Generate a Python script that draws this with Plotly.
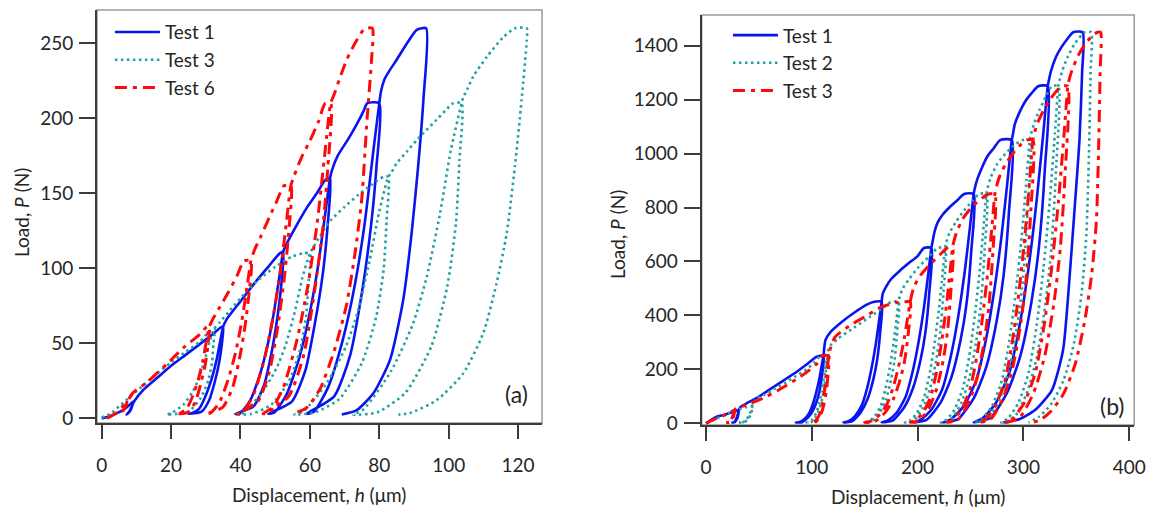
import plotly.graph_objects as go

# ---------------- Panel (a) data: displacement h (um), load P (N) ----------------
a_test1_h = [0, 2, 4, 6.5, 8.5, 9, 8.7, 8.1, 7.2, 7.8, 8.6, 9.4,
             12, 16, 20, 24, 28, 32, 34.5, 35,
             34.6, 33.8, 32.6, 31, 28.8, 25,
             26, 28, 30, 31.6, 33, 34.2, 35,
             36, 40, 44, 48, 51.3, 52.3,
             51.75, 50.6, 49, 46.8, 43.7, 38.5,
             39.9, 42.6, 45.4, 47.6, 49.5, 51.2, 52.3,
             53, 56, 59, 62, 64.5, 65.8,
             65.1, 63.7, 61.5, 58.7, 54.8, 48,
             49.8, 53.3, 56.9, 59.7, 62.2, 64.4, 65.8,
             66.3, 68, 71, 73.5, 75.5, 76.5, 80,
             79.2, 77.5, 75, 71.6, 67, 59,
             61.1, 65.3, 69.5, 72.9, 75.8, 78.3, 80,
             80.5, 81.5, 83, 85, 88, 90.8, 93.5,
             92.7, 91.2, 89.3, 86.9, 83.1, 78.3, 73.5, 69.2]
a_test1_p = [0, 1, 3, 6, 10, 11, 7.5, 4.5, 2.5, 4, 7.5, 11.5,
             19, 27, 35, 42, 49, 56, 61, 61,
             48.8, 36.6, 24.4, 12.2, 4.5, 3,
             3.5, 6.1, 15.3, 25.6, 37.8, 51.9, 61,
             66, 78, 90, 101, 110, 111,
             88.8, 66.6, 44.4, 22.2, 7.8, 3,
             3.5, 11.1, 27.8, 46.6, 68.8, 94.4, 111,
             115, 128, 140, 150, 159, 160,
             128, 96, 64, 32, 11.2, 3,
             4, 16, 40, 67.2, 99.2, 136, 160,
             165, 175, 186, 196, 205, 210, 210,
             168, 126, 84, 42, 14.7, 3,
             4.2, 21, 52.5, 88.2, 130, 178.5, 210,
             218, 226, 232, 239, 250, 259, 260,
             212, 168, 123, 79, 39, 16.7, 5.5, 2.5]

a_test3_h = [0, 2.5, 5, 8.2, 12, 16, 19.7, 24, 28.3, 31, 32.5,
             32.2, 31.8, 30.7, 28.6, 25.3, 21.7, 18.7,
             20.1, 23.5, 26.3, 28.1, 29.7, 31.1, 32.5,
             34, 37, 40, 42.7, 45, 50, 55, 58.1, 60,
             59.6, 58.9, 57.2, 54, 48.8, 43.2, 38.4,
             40.6, 46, 50.3, 53.1, 55.7, 57.8, 60,
             61, 63, 66, 70, 74, 78, 81.2, 82.6,
             82.1, 81.3, 79.1, 75, 68.5, 61.5, 55.5,
             58.2, 65, 70.4, 73.9, 77.2, 79.9, 82.6,
             83.5, 85, 88, 90.8, 93.5, 96.5, 99, 101.3, 103.7,
             103.1, 102.1, 99.6, 95, 87.5, 79.4, 72.5,
             75.6, 83.4, 89.7, 93.7, 97.5, 100.6, 103.7,
             104.2, 105.5, 107.1, 111, 115.7, 119.1, 122.5,
             122.5, 121, 119.1, 116.7, 113.8, 110, 104.2, 96.5, 88.8, 85.5]
a_test3_p = [0.5, 3, 8, 14.4, 22, 30, 36.7, 44, 51, 58, 60,
             49.2, 37.2, 25.2, 13.8, 5, 3, 2.5,
             3.5, 9, 18, 27, 39, 51, 60,
             64, 72, 80, 87, 92, 101, 108, 110, 110,
             90, 68, 46, 25, 9, 3, 2.5,
             3.5, 16.5, 33, 49.5, 71.5, 93.5, 110,
             114, 122, 132, 141, 149, 156, 161, 161,
             132, 100, 67.6, 37, 12.9, 4, 2.5,
             4.8, 24, 48, 72, 105, 137, 161,
             164, 170, 178, 185.5, 192, 199, 205, 210, 210,
             172, 130, 88, 48, 17, 4, 2.5,
             6.3, 31.5, 63, 94.5, 136.5, 178.5, 210,
             214, 220, 228, 241, 254, 260, 260,
             252, 212, 168, 123, 90, 57, 30, 12, 3.5, 2.5]

a_test6_h = [1.5, 3, 4.5, 6, 7.3, 7, 6.3, 5.6, 6.4, 7.6, 9,
             13, 18.7, 23.5, 28.3, 30.3, 31,
             30.6, 29.9, 28.7, 27.2, 25.2, 21.6,
             22.5, 24.4, 26.3, 27.8, 29.1, 30.2, 31,
             32, 34, 36.5, 39, 41, 43,
             42.5, 41.4, 39.9, 37.8, 34.9, 30,
             31.3, 33.9, 36.5, 38.6, 40.4, 42, 43,
             44, 46, 48.5, 50.5, 52.5, 54.5,
             53.9, 52.6, 50.8, 48.3, 44.9, 39,
             40.6, 43.7, 46.8, 49.2, 51.4, 53.3, 54.5,
             55.5, 57.6, 60, 62.5, 64.4, 66,
             65.2, 63.7, 61.3, 58.2, 53.9, 46.5,
             48.5, 52.4, 56.3, 59.4, 62.1, 64.4, 66,
             67, 68.5, 70.6, 73, 75.4, 76, 78,
             77.8, 76.5, 74.9, 73, 70.5, 67, 63, 59, 55]
a_test6_p = [0, 2, 4, 8, 12, 8.5, 5.5, 4.5, 7, 12, 17,
             24, 36, 47, 56, 61, 61,
             48.8, 36.6, 24.4, 12.2, 4.3, 3,
             3.5, 6.1, 15.3, 25.6, 37.8, 51.9, 61,
             66, 74, 84, 95, 105, 105,
             84, 63, 42, 21, 7.4, 3,
             3.5, 10.5, 26.3, 44.1, 65.1, 89.3, 105,
             112, 122, 135, 145, 155, 155,
             124, 93, 62, 31, 10.9, 3,
             4, 15.5, 38.8, 65.1, 96.1, 131.8, 155,
             162, 174, 185, 198, 210, 210,
             168, 126, 84, 42, 14.7, 3,
             4.2, 21, 52.5, 88.2, 130, 178.5, 210,
             216, 226, 239, 250, 259, 260, 260,
             240, 200, 145, 110, 75, 45, 20, 7, 3]

# ---------------- Panel (b) data ----------------
b_test1_h = [0, 4, 10, 17, 24, 29, 31,
             30.7, 30.2, 29.5, 28.4, 27.2, 25.5, 24,
             24.8, 26.1, 27.4, 28.3, 29.2, 30, 30.6, 31,
             33, 38.4, 45, 52, 60, 68, 76, 85.7, 95, 104.6, 111,
             110, 107.9, 105.3, 101.4, 96.7, 90.7, 85,
             88.1, 92.8, 97.5, 101.1, 104.2, 107.1, 109.4, 111,
             111.5, 113, 118, 128, 140, 152, 158, 166,
             164.6, 161.7, 158.1, 152.7, 146.2, 137.9, 130,
             134.3, 140.8, 147.3, 152.3, 156.6, 160.6, 163.8, 166,
             167, 170, 175, 183, 192, 200, 206, 213,
             211.1, 207.4, 202.7, 195.6, 187.2, 176.3, 166,
             171.6, 180.1, 188.6, 195.1, 200.8, 206, 210.2, 213,
             214, 216, 219, 224, 230, 237, 244, 253,
             250.7, 246.2, 240.5, 231.9, 221.7, 208.5, 196,
             202.8, 213.1, 223.4, 231.3, 238.2, 244.5, 249.6, 253,
             254, 256, 260, 266, 272, 278, 289,
             286.4, 281.2, 274.7, 265, 253.3, 238.3, 224,
             231.8, 243.5, 255.2, 264.3, 272.1, 279.3, 285.1, 289,
             290, 292, 296, 302, 308, 314, 323,
             320.2, 314.6, 307.6, 297.1, 284.5, 268.4, 253,
             261.4, 274, 286.6, 296.4, 304.8, 312.5, 318.8, 323,
             324, 326, 331, 336, 341, 347, 356,
             355.5, 353, 349, 342, 337.5, 327, 311, 296, 281]
b_test1_p = [0, 10, 24, 31, 40, 47, 50,
             37.5, 26, 18, 10, 4.5, 3, 3,
             3, 3.5, 7.5, 14.5, 23, 33, 43, 50,
             62, 74, 88, 104, 125, 145, 166, 191, 218, 247, 250,
             187.5, 130, 90, 50, 22.5, 4, 3,
             4, 15, 37.5, 72.5, 115, 165, 215, 250,
             270, 310, 340, 375, 410, 440, 450, 450,
             337.5, 234, 162, 90, 40.5, 6.8, 3,
             6.8, 27, 67.5, 130.5, 207, 297, 387, 450,
             480, 505, 535, 565, 595, 620, 650, 650,
             487.5, 338, 234, 130, 58.5, 9.8, 3,
             9.8, 39, 97.5, 188.5, 299, 429, 559, 650,
             670, 710, 745, 775, 800, 825, 850, 850,
             637.5, 442, 306, 170, 76.5, 12.8, 3,
             12.8, 51, 127.5, 246.5, 391, 561, 731, 850,
             870, 900, 940, 990, 1020, 1050, 1050,
             787.5, 546, 378, 210, 94.5, 15.8, 3,
             15.8, 63, 157.5, 304.5, 483, 693, 903, 1050,
             1070, 1110, 1150, 1195, 1225, 1250, 1250,
             937.5, 650, 450, 250, 112.5, 18.8, 3,
             18.8, 75, 187.5, 362.5, 575, 825, 1075, 1250,
             1270, 1305, 1360, 1395, 1422, 1450, 1450,
             1300, 1050, 828, 457, 272, 123, 49, 15, 3]

b_test2_h = [0, 6, 14, 22, 30, 38, 44,
             43.5, 42.4, 41.1, 39.2, 36.9, 33.9, 31,
             32.6, 34.9, 37.2, 39.1, 40.6, 42.1, 43.2, 44,
             47, 55, 65, 75, 85, 95, 103, 108, 114,
             113.2, 111.7, 109.8, 107, 103.6, 99.2, 95,
             97.3, 100.7, 104.1, 106.8, 109.1, 111.2, 112.9, 114,
             115, 118, 125, 140, 155, 168, 175, 182,
             180.7, 178.2, 175, 170.2, 164.4, 157, 150,
             153.8, 159.6, 165.4, 169.8, 173.7, 177.2, 180.1, 182,
             183, 186, 192, 200, 210, 219, 226,
             224.5, 221.4, 217.6, 211.9, 205.1, 196.4, 188,
             192.6, 199.4, 206.2, 211.6, 216.1, 220.3, 223.7, 226,
             227, 230, 236, 244, 252, 258, 265,
             263.3, 259.8, 255.5, 249.1, 241.4, 231.5, 222,
             227.2, 234.9, 242.6, 248.7, 253.8, 258.6, 262.4, 265,
             266, 269, 275, 283, 291, 299, 306,
             304, 299.9, 294.8, 287.1, 278, 266.2, 255,
             261.1, 270.3, 279.5, 286.6, 292.7, 298.4, 302.9, 306,
             307, 310, 315, 321, 327, 333,
             330.8, 326.5, 321.1, 313, 303.3, 290.9, 279,
             285.5, 295.2, 304.9, 312.5, 319, 324.9, 329.8, 333,
             334, 337, 342, 349, 358, 364,
             363.5, 362, 359.5, 355, 348, 338, 326, 315, 305]
b_test2_p = [0, 10, 25, 38, 50, 60, 65,
             48.8, 33.8, 23.4, 13, 5.9, 3, 3,
             3, 3.9, 9.8, 18.9, 29.9, 42.9, 55.9, 65,
             90, 105, 128, 150, 175, 200, 228, 250, 250,
             187.5, 130, 90, 50, 22.5, 4, 3,
             4, 15, 37.5, 72.5, 115, 165, 215, 250,
             265, 290, 315, 355, 395, 430, 450, 450,
             337.5, 234, 162, 90, 40.5, 6.8, 3,
             6.8, 27, 67.5, 130.5, 207, 297, 387, 450,
             470, 500, 535, 575, 615, 650, 650,
             487.5, 338, 234, 130, 58.5, 9.8, 3,
             9.8, 39, 97.5, 188.5, 299, 429, 559, 650,
             670, 705, 745, 790, 825, 850, 850,
             637.5, 442, 306, 170, 76.5, 12.8, 3,
             12.8, 51, 127.5, 246.5, 391, 561, 731, 850,
             870, 910, 960, 1000, 1030, 1050, 1050,
             787.5, 546, 378, 210, 94.5, 15.8, 3,
             15.8, 63, 157.5, 304.5, 483, 693, 903, 1050,
             1070, 1110, 1160, 1210, 1250, 1250,
             937.5, 650, 450, 250, 112.5, 18.8, 3,
             18.8, 75, 187.5, 362.5, 575, 825, 1075, 1250,
             1270, 1310, 1360, 1410, 1450, 1450,
             1300, 1000, 700, 480, 300, 160, 70, 25, 3]

b_test3_h = [0, 5, 10, 16, 22, 27,
             26.7, 26, 25.2, 24, 22.6, 20.8, 19,
             20, 21.4, 22.8, 24, 24.9, 25.8, 26.5, 27,
             29, 38, 48, 57, 68, 79, 89, 98, 105, 110, 116,
             115.4, 114.1, 112.5, 110.1, 107.2, 103.5, 100,
             101.9, 104.8, 107.7, 109.9, 111.8, 113.6, 115, 116,
             117, 122, 135, 150, 165, 180, 187, 193,
             191.3, 187.8, 183.5, 177.1, 169.4, 159.5, 150,
             155.2, 162.9, 170.6, 176.7, 181.8, 186.6, 190.4, 193,
             194, 197, 203, 212, 221, 228, 233,
             231.4, 228.2, 224.2, 218.2, 211, 201.8, 193,
             197.8, 205, 212.2, 217.8, 222.6, 227, 230.6, 233,
             234, 237, 243, 252, 261, 267, 273,
             271.2, 267.6, 263.1, 256.4, 248.3, 237.9, 228,
             233.4, 241.5, 249.6, 255.9, 261.3, 266.3, 270.3, 273,
             274, 277, 283, 291, 298, 303, 309,
             307, 302.9, 297.8, 290.1, 281, 269.2, 258,
             264.1, 273.3, 282.5, 289.6, 295.7, 301.4, 305.9, 309,
             310, 313, 319, 326, 332, 337, 342,
             339.6, 334.9, 329, 320.2, 309.6, 296, 283,
             290.1, 300.7, 311.3, 319.6, 326.7, 333.2, 338.5, 342,
             343, 346, 352, 359, 366, 370, 373,
             372.5, 371, 369, 364.5, 358, 349, 338, 326, 316, 308]
b_test3_p = [0, 10, 18, 28, 38, 50,
             37.5, 26, 18, 10, 4.5, 3, 3,
             3, 3.5, 7.5, 14.5, 23, 33, 43, 50,
             55, 68, 83, 99, 122, 148, 172, 198, 222, 250, 250,
             187.5, 130, 90, 50, 22.5, 4, 3,
             4, 15, 37.5, 72.5, 115, 165, 215, 250,
             270, 320, 360, 395, 430, 448, 450, 450,
             337.5, 234, 162, 90, 40.5, 6.8, 3,
             6.8, 27, 67.5, 130.5, 207, 297, 387, 450,
             470, 510, 550, 590, 625, 650, 650,
             487.5, 338, 234, 130, 58.5, 9.8, 3,
             9.8, 39, 97.5, 188.5, 299, 429, 559, 650,
             670, 710, 760, 805, 835, 850, 850,
             637.5, 442, 306, 170, 76.5, 12.8, 3,
             12.8, 51, 127.5, 246.5, 391, 561, 731, 850,
             870, 910, 960, 1005, 1035, 1050, 1050,
             787.5, 546, 378, 210, 94.5, 15.8, 3,
             15.8, 63, 157.5, 304.5, 483, 693, 903, 1050,
             1070, 1110, 1160, 1205, 1235, 1250, 1250,
             937.5, 650, 450, 250, 112.5, 18.8, 3,
             18.8, 75, 187.5, 362.5, 575, 825, 1075, 1250,
             1270, 1310, 1365, 1410, 1440, 1450, 1450,
             1300, 1000, 750, 550, 380, 220, 110, 45, 12, 3]

# ---------------- ticks ----------------
a_x_ticks = [0, 20, 40, 60, 80, 100, 120]
a_y_ticks = [0, 50, 100, 150, 200, 250]
b_x_ticks = [0, 100, 200, 300, 400]
b_y_ticks = [0, 200, 400, 600, 800, 1000, 1200, 1400]

BLUE = "#0a14f0"
TEAL = "#23a0a0"
RED = "#ff0a0a"
FONT = "Lato"
TXT = "#262626"
AX = "#3c3c3c"

blue_line = dict(color=BLUE, width=2.6, shape="spline", smoothing=0.6)
teal_line = dict(color=TEAL, width=2.6, dash="2.5px,3.5px", shape="spline", smoothing=0.6)
red_line = dict(color=RED, width=3, dash="12px,6px,4px,6px", shape="spline", smoothing=0.6)

fig = go.Figure()
fig.add_trace(go.Scatter(x=a_test1_h, y=a_test1_p, mode="lines", name="Test 1", line=blue_line,
                         xaxis="x", yaxis="y", legend="legend"))
fig.add_trace(go.Scatter(x=a_test3_h, y=a_test3_p, mode="lines", name="Test 3", line=teal_line,
                         xaxis="x", yaxis="y", legend="legend"))
fig.add_trace(go.Scatter(x=a_test6_h, y=a_test6_p, mode="lines", name="Test 6", line=red_line,
                         xaxis="x", yaxis="y", legend="legend"))
fig.add_trace(go.Scatter(x=b_test1_h, y=b_test1_p, mode="lines", name="Test 1", line=blue_line,
                         xaxis="x2", yaxis="y2", legend="legend2"))
fig.add_trace(go.Scatter(x=b_test2_h, y=b_test2_p, mode="lines", name="Test 2", line=teal_line,
                         xaxis="x2", yaxis="y2", legend="legend2"))
fig.add_trace(go.Scatter(x=b_test3_h, y=b_test3_p, mode="lines", name="Test 3", line=red_line,
                         xaxis="x2", yaxis="y2", legend="legend2"))

tickfont = dict(family=FONT, size=19, color=TXT)
common_x = dict(showline=True, linecolor=AX, linewidth=2, ticks="outside", ticklen=14, tickwidth=2,
                tickcolor=AX, tickfont=tickfont, showgrid=False, zeroline=False, automargin=False,
                ticklabelstandoff=10)
common_y = dict(showline=True, linecolor=AX, linewidth=2, ticks="outside", ticklen=16, tickwidth=2,
                tickcolor=AX, tickfont=tickfont, showgrid=False, zeroline=False, automargin=False,
                ticklabelstandoff=2)

legend_common = dict(bgcolor="rgba(0,0,0,0)", borderwidth=0, font=dict(family=FONT, size=19, color=TXT),
                     xanchor="left", yanchor="top", itemwidth=45, tracegroupgap=0)


def label(text, x, y, size=19, angle=0):
    return dict(text=text, x=x / 1152, y=1 - y / 508, xref="paper", yref="paper",
                xanchor="center", yanchor="middle", textangle=angle, showarrow=False,
                font=dict(family=FONT, size=size, color=TXT))


fig.update_layout(
    width=1152, height=508,
    margin=dict(l=0, r=0, t=0, b=0),
    paper_bgcolor="white", plot_bgcolor="white",
    xaxis=dict(domain=[0.0842, 0.4705], range=[-1.35, 126.9], tickvals=a_x_ticks, anchor="y", **common_x),
    yaxis=dict(domain=[0.1673, 0.9803], range=[-3.1, 272.2], tickvals=a_y_ticks, anchor="x", **common_y),
    xaxis2=dict(domain=[0.6091, 0.9846], range=[-4.1, 404.8], tickvals=b_x_ticks, anchor="y2", **common_x),
    yaxis2=dict(domain=[0.1634, 0.9705], range=[-6.3, 1514], tickvals=b_y_ticks, anchor="x2", **common_y),
    legend=dict(x=0.0954, y=0.974, **legend_common),
    legend2=dict(x=0.6319, y=0.968, **legend_common),
    shapes=[
        dict(type="rect", xref="x domain", yref="y domain", x0=0, x1=1, y0=0, y1=1,
             line=dict(color="#9a9a9a", width=1.5), layer="below"),
        dict(type="rect", xref="x2 domain", yref="y2 domain", x0=0, x1=1, y0=0, y1=1,
             line=dict(color="#9a9a9a", width=1.5), layer="below"),
    ],
    annotations=[
        label("Load, <i>P</i> (N)", 22, 213, angle=-90),
        label("Displacement, <i>h</i> (\u03bcm)", 319, 494),
        label("Load, <i>P</i> (N)", 617, 235, angle=-90),
        label("Displacement, <i>h</i> (\u03bcm)", 918, 496),
        label("(a)", 516, 394, size=23),
        label("(b)", 1112, 406, size=23),
    ],
)

fig.write_html("out.html", config={"displayModeBar": False},
               post_script="document.body.style.margin='0px';")
